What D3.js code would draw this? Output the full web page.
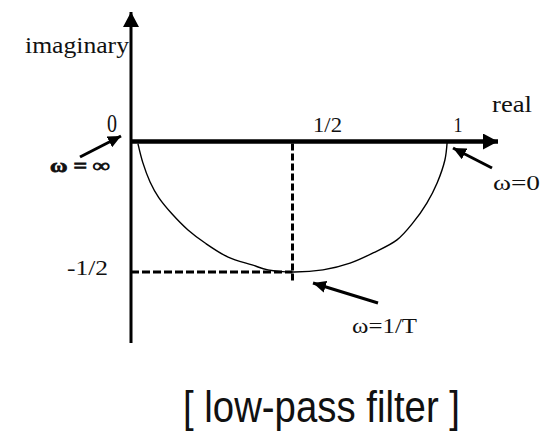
<!DOCTYPE html>
<html>
<head>
<meta charset="utf-8">
<script src="https://cdn.jsdelivr.net/npm/d3@7"></script>
<style>
  html, body { margin: 0; padding: 0; background: #fff; }
  svg { display: block; }
  .serif { font-family: "Liberation Serif", "DejaVu Serif", serif; fill: #111; }
</style>
</head>
<body>
<svg id="chart" width="541" height="434"></svg>
<script>
// Nyquist locus of a first-order low-pass filter: real part vs imaginary part
const curveRe = [0.003, 0.019, 0.042, 0.070, 0.113, 0.164, 0.219, 0.293, 0.370, 0.421, 0.502,
                 0.598, 0.685, 0.759, 0.836, 0.887, 0.932, 0.965, 0.990, 0.997];
const curveIm = [-0.008, -0.082, -0.155, -0.215, -0.278, -0.339, -0.389, -0.443, -0.473, -0.492, -0.500,
                 -0.492, -0.466, -0.427, -0.377, -0.312, -0.236, -0.159, -0.071, -0.006];

// Marked points on the real / imaginary axes
const realTicks = [0, 0.5, 1];
const realTickLabels = ["0", "1/2", "1"];
const imagTicks = [-0.5];
const imagTickLabels = ["-1/2"];

// Corner frequency point (omega = 1/T)
const cornerRe = 0.5;
const cornerIm = -0.5;

const svg = d3.select("#chart");

const x = d3.scaleLinear().domain([0, 1]).range([137, 448]);
const y = d3.scaleLinear().domain([0, -0.5]).range([141.5, 272]);

const axisX = 131;          // imaginary axis position
const axisY = y(0);         // real axis position

// arrowhead markers
const defs = svg.append("defs");
function marker(id, w, h) {
  defs.append("marker")
    .attr("id", id)
    .attr("viewBox", `0 0 ${w} ${h}`)
    .attr("refX", w).attr("refY", h / 2)
    .attr("markerWidth", w).attr("markerHeight", h)
    .attr("markerUnits", "userSpaceOnUse")
    .attr("orient", "auto")
    .append("path")
    .attr("d", `M0,0L${w},${h / 2}L0,${h}Z`)
    .attr("fill", "#000");
}
marker("axisHead", 15, 16);
marker("ptrHead", 13, 12);

// imaginary axis
svg.append("line")
  .attr("x1", axisX).attr("y1", 343)
  .attr("x2", axisX).attr("y2", 12)
  .attr("stroke", "#000").attr("stroke-width", 3)
  .attr("marker-end", "url(#axisHead)");

// real axis
svg.append("line")
  .attr("x1", axisX).attr("y1", axisY)
  .attr("x2", 498).attr("y2", axisY)
  .attr("stroke", "#000").attr("stroke-width", 4.5)
  .attr("marker-end", "url(#axisHead)");

// dashed guides to the corner point
svg.append("line")
  .attr("x1", x(cornerRe)).attr("y1", axisY + 2)
  .attr("x2", x(cornerRe)).attr("y2", y(cornerIm) + 10)
  .attr("stroke", "#000").attr("stroke-width", 3)
  .attr("stroke-dasharray", "7,3");
svg.append("line")
  .attr("x1", axisX).attr("y1", y(cornerIm))
  .attr("x2", x(cornerRe)).attr("y2", y(cornerIm))
  .attr("stroke", "#000").attr("stroke-width", 3)
  .attr("stroke-dasharray", "8,3");

// locus
const pts = curveRe.map((r, i) => [r, curveIm[i]]);
svg.append("path")
  .datum(pts)
  .attr("fill", "none")
  .attr("stroke", "#000")
  .attr("stroke-width", 1.4)
  .attr("d", d3.line().x(d => x(d[0])).y(d => y(d[1])).curve(d3.curveCatmullRom));

// tick labels on the real axis
const realOffsets = [-25, 35, 10];
const realSizes = [26, 21, 21];
const realWidths = [10, 29, 9];
svg.selectAll("text.rt")
  .data(realTicks)
  .join("text")
  .attr("class", "serif rt")
  .attr("x", (d, i) => x(d) + realOffsets[i] - realWidths[i] / 2)
  .attr("y", 132)
  .attr("font-size", (d, i) => realSizes[i])
  .attr("textLength", (d, i) => realWidths[i])
  .attr("lengthAdjust", "spacingAndGlyphs")
  .text((d, i) => realTickLabels[i]);

// tick label on the imaginary axis
svg.selectAll("text.it")
  .data(imagTicks)
  .join("text")
  .attr("class", "serif it")
  .attr("x", 108)
  .attr("y", d => y(d) + 3)
  .attr("text-anchor", "end")
  .attr("font-size", 21)
  .attr("textLength", 41)
  .attr("lengthAdjust", "spacingAndGlyphs")
  .text((d, i) => imagTickLabels[i]);

// axis names
svg.append("text").attr("class", "serif")
  .attr("x", 25).attr("y", 53)
  .attr("font-size", 24)
  .attr("textLength", 104).attr("lengthAdjust", "spacingAndGlyphs")
  .text("imaginary");
svg.append("text").attr("class", "serif")
  .attr("x", 492).attr("y", 112)
  .attr("font-size", 23)
  .attr("textLength", 40).attr("lengthAdjust", "spacingAndGlyphs")
  .text("real");

// frequency pointers
function pointer(x1, y1, x2, y2) {
  svg.append("line")
    .attr("x1", x1).attr("y1", y1).attr("x2", x2).attr("y2", y2)
    .attr("stroke", "#000").attr("stroke-width", 3)
    .attr("marker-end", "url(#ptrHead)");
}
pointer(80, 157, 121, 136);
pointer(492, 168, 453, 148);
pointer(378, 303, 313, 283);

svg.append("text").attr("class", "serif")
  .attr("x", 50).attr("y", 172)
  .attr("font-size", 19).attr("font-weight", "bold")
  .attr("stroke", "#111").attr("stroke-width", 0.8)
  .attr("textLength", 60).attr("lengthAdjust", "spacingAndGlyphs")
  .text("ω = ∞");
svg.append("text").attr("class", "serif")
  .attr("x", 493).attr("y", 190)
  .attr("font-size", 21)
  .attr("textLength", 47).attr("lengthAdjust", "spacingAndGlyphs")
  .text("ω=0");
svg.append("text").attr("class", "serif")
  .attr("x", 352).attr("y", 333)
  .attr("font-size", 21)
  .attr("textLength", 65).attr("lengthAdjust", "spacingAndGlyphs")
  .text("ω=1/T");

// caption
svg.append("text")
  .attr("x", 183).attr("y", 422)
  .attr("font-family", "'Liberation Sans', Arial, sans-serif")
  .attr("font-size", 44)
  .attr("fill", "#111")
  .attr("textLength", 277).attr("lengthAdjust", "spacingAndGlyphs")
  .text("[ low-pass filter ]");
</script>
</body>
</html>
